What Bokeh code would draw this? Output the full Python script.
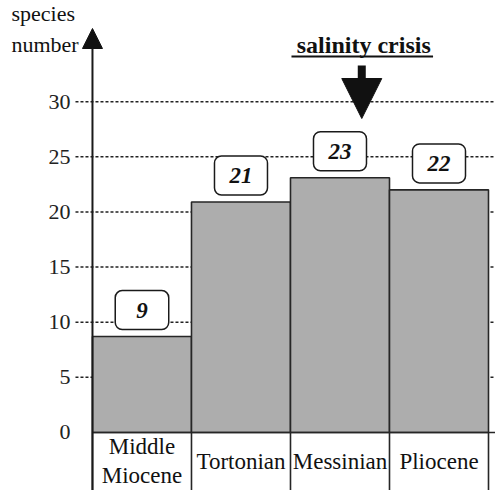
from bokeh.plotting import figure
from bokeh.models import (ColumnDataSource, Label, Arrow, NormalHead,
                          FixedTicker, Range1d, LinearAxis)
from bokeh.embed import file_html
from bokeh.resources import INLINE
from bokeh.core.properties import value

# ---- data ----
categories = ["Middle\nMiocene", "Tortonian", "Messinian", "Pliocene"]
bar_values = [8.7, 20.9, 23.1, 22.0]
count_labels = ["9", "21", "23", "22"]
y_ticks = [0, 5, 10, 15, 20, 25, 30]
y_label_lines = ["species", "number"]
event_text = "salinity crisis"
event_position = 2.72   # position along the stage axis (inside Messinian)

FONT = "Liberation Serif"
n = len(categories)
Y_MIN, Y_MAX = -5.26, 39.17
X_MIN, X_MAX = -0.929, 4.0707
AXIS_X = -0.1717       # where tick labels end / grid lines begin

p = figure(width=495, height=490, output_backend="svg", toolbar_location=None,
           x_range=Range1d(X_MIN, X_MAX), y_range=Range1d(Y_MIN, Y_MAX),
           min_border=0, x_axis_location=None, y_axis_location=None)
p.outline_line_color = None
p.background_fill_color = "white"
p.border_fill_color = "white"
p.xgrid.grid_line_color = None
p.ygrid.grid_line_color = None

# y axis (labels only), placed inside the frame
yaxis = LinearAxis(ticker=FixedTicker(ticks=y_ticks), fixed_location=AXIS_X)
yaxis.axis_line_color = None
yaxis.major_tick_line_color = None
yaxis.minor_tick_line_color = None
yaxis.major_tick_out = 0
yaxis.major_tick_in = 0
yaxis.major_label_standoff = 5
yaxis.major_label_text_font = FONT
yaxis.major_label_text_font_size = "22px"
yaxis.major_label_text_color = "#222222"
p.add_layout(yaxis, "left")

# dashed grid lines (not at zero)
grid_ticks = [t for t in y_ticks if t > 0]
p.segment(x0=[AXIS_X] * len(grid_ticks), y0=grid_ticks,
          x1=[X_MAX] * len(grid_ticks), y1=grid_ticks,
          line_color="#222222", line_dash="3 2", line_width=1.5)

# bars
xs = list(range(n))
src = ColumnDataSource(dict(
    left=xs, right=[x + 1 for x in xs], top=bar_values,
    center=[x + 0.5 for x in xs], cat=categories))
p.quad(left="left", right="right", bottom=0, top="top", source=src,
       fill_color="#adadad", line_color="#262626", line_width=1.6)

# table lines below zero
p.segment(x0=list(range(n + 1)), y0=[Y_MIN] * (n + 1),
          x1=list(range(n + 1)), y1=[0] * (n + 1),
          line_color="#262626", line_width=1.6)
p.segment(x0=[0], y0=[0], x1=[X_MAX], y1=[0], line_color="#262626", line_width=1.6)

# category labels
p.text(x="center", y=-2.6, text="cat", source=src, text_align="center",
       text_baseline="middle", text_font=value(FONT), text_font_size="23px",
       text_color="#111111", text_line_height=1.15)

# count boxes
for i, (lab, v) in enumerate(zip(count_labels, bar_values)):
    hpad = 15 + 6 * (2 - len(lab))
    p.add_layout(Label(x=i + 0.5, y=v + 2.4, text=lab,
                       text_align="center", text_baseline="middle",
                       text_font=FONT, text_font_size="23px",
                       text_font_style="bold italic", text_color="#111111",
                       background_fill_color="white", border_line_color="#1a1a1a",
                       border_line_width=1.5, border_radius=7, padding=(hpad, 12)))

# y-axis arrow
p.add_layout(Arrow(x_start=0, y_start=Y_MIN, x_end=0, y_end=36.63,
                   line_width=2, line_color="#1a1a1a",
                   end=NormalHead(size=20, fill_color="#111111", line_color="#111111")))

# axis title
p.text(x=[-0.818] * len(y_label_lines), y=[37.97 - 2.83 * k for k in range(len(y_label_lines))],
       text=y_label_lines, text_align="left", text_baseline="middle",
       text_font=value(FONT), text_font_size="22px", text_color="#111111")

# salinity crisis
p.text(x=[event_position + 0.02], y=[35.09], text=[event_text],
       text_align="center", text_baseline="middle",
       text_font=value(FONT), text_font_size="24px", text_font_style="bold",
       text_color="#111111")
p.segment(x0=[event_position - 0.71], y0=[34.09], x1=[event_position + 0.72], y1=[34.09],
          line_color="#111111", line_width=2)
p.add_layout(Arrow(x_start=event_position, y_start=33.27, x_end=event_position, y_end=28.47,
                   line_width=8, line_color="#111111",
                   end=NormalHead(size=40, fill_color="#111111", line_color="#111111")))

open("out.html", "w").write(file_html(p, INLINE))
